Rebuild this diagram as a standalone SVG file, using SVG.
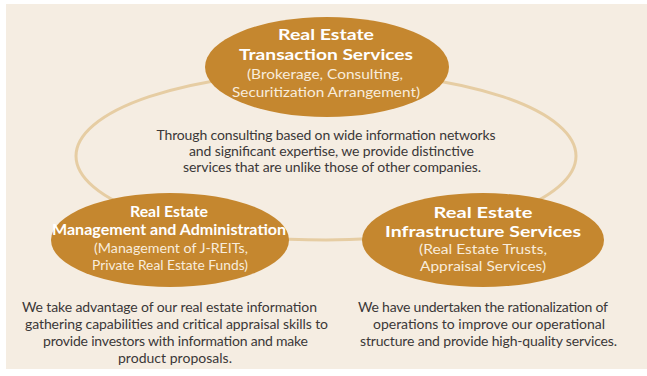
<svg xmlns="http://www.w3.org/2000/svg" width="647" height="376" viewBox="0 0 647 376">
<style>
.node{fill:#c5872f}
.t{font-family:Lato,"Open Sans",sans-serif;font-weight:bold;fill:#ffffff;text-anchor:middle}
.s{font-family:Lato,"Open Sans",sans-serif;fill:#f8ecdc;text-anchor:middle;font-size:13.5px}
.b{font-family:Lato,"Open Sans",sans-serif;fill:#3b3838;text-anchor:middle;font-size:14px}
.ring{fill:none;stroke:#e6cda3;stroke-width:3}
</style>
<rect width="647" height="376" fill="#ffffff"/>
<rect x="6" y="4" width="641" height="365" fill="#f5ede2"/>
<g id="connectors">
<ellipse class="ring" cx="326" cy="156" rx="250" ry="84"/>
</g>
<g id="center-text">
<text class="b" x="326" y="140" textLength="339">Through consulting based on wide information networks</text>
<text class="b" x="331.5" y="156" textLength="285">and significant expertise, we provide distinctive</text>
<text class="b" x="332" y="172" textLength="298">services that are unlike those of other companies.</text>
</g>
<g id="transaction">
<ellipse class="node" cx="327" cy="67" rx="122" ry="50"/>
<text class="t" x="326" y="40" font-size="15.5" textLength="96" lengthAdjust="spacingAndGlyphs">Real Estate</text>
<text class="t" x="326" y="59.5" font-size="15.5" textLength="174" lengthAdjust="spacingAndGlyphs">Transaction Services</text>
<text class="s" x="325" y="79" textLength="156" lengthAdjust="spacingAndGlyphs">(Brokerage, Consulting,</text>
<text class="s" x="326" y="97" textLength="188" lengthAdjust="spacingAndGlyphs">Securitization Arrangement)</text>
</g>
<g id="management">
<ellipse class="node" cx="170" cy="240" rx="119" ry="47"/>
<text class="t" x="169" y="217" font-size="14.5" textLength="78" lengthAdjust="spacingAndGlyphs">Real Estate</text>
<text class="t" x="169" y="235" font-size="14.5" textLength="234" lengthAdjust="spacingAndGlyphs">Management and Administration</text>
<text class="s" x="171" y="253" textLength="154" lengthAdjust="spacingAndGlyphs">(Management of J-REITs,</text>
<text class="s" x="170" y="269.5" textLength="156" lengthAdjust="spacingAndGlyphs">Private Real Estate Funds)</text>
</g>
<g id="infrastructure">
<ellipse class="node" cx="483" cy="240" rx="121" ry="47"/>
<text class="t" x="483" y="217.5" font-size="15.5" textLength="99" lengthAdjust="spacingAndGlyphs">Real Estate</text>
<text class="t" x="483" y="236.5" font-size="15.5" textLength="196" lengthAdjust="spacingAndGlyphs">Infrastructure Services</text>
<text class="s" x="483" y="254" textLength="128" lengthAdjust="spacingAndGlyphs">(Real Estate Trusts,</text>
<text class="s" x="483" y="271" textLength="126" lengthAdjust="spacingAndGlyphs">Appraisal Services)</text>
</g>
<g id="management-text">
<text class="b" x="169.5" y="312" textLength="295">We take advantage of our real estate information</text>
<text class="b" x="176.5" y="329" textLength="303">gathering capabilities and critical appraisal skills to</text>
<text class="b" x="175.5" y="346" textLength="265">provide investors with information and make</text>
<text class="b" x="175" y="363" textLength="114">product proposals.</text>
</g>
<g id="infrastructure-text">
<text class="b" x="483" y="312" textLength="250">We have undertaken the rationalization of</text>
<text class="b" x="489" y="329" textLength="232">operations to improve our operational</text>
<text class="b" x="488.5" y="346" textLength="257">structure and provide high-quality services.</text>
</g>
</svg>
